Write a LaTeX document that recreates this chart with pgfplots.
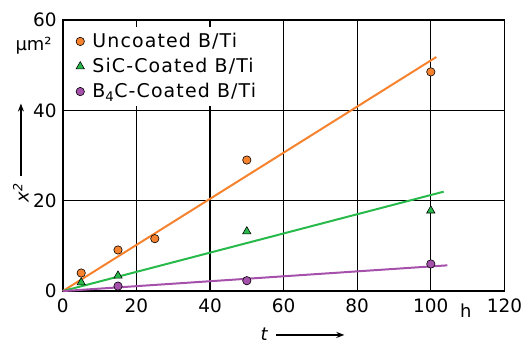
\documentclass[border=0pt]{standalone}
\usepackage{fontspec}
\setmainfont{DejaVu Sans}
\usepackage{pgfplots}
\pgfplotsset{compat=1.18}
\usetikzlibrary{arrows.meta}
\definecolor{cor}{RGB}{246,130,45}
\definecolor{cgr}{RGB}{40,185,75}
\definecolor{cpu}{RGB}{165,80,170}
\begin{document}
\fontsize{18}{21}\selectfont
\begin{tikzpicture}
\begin{axis}[
  scale only axis, width=443pt, height=272pt,
  xmin=0, xmax=120, ymin=0, ymax=60,
  xtick={0,20,...,120}, ytick={0,20,40,60},
  xticklabels={0,20,40,60,80,100,120},
  grid=major, grid style={black, line width=1.2pt},
  axis line style={line width=1.5pt},
  major tick length=0pt,
  /pgf/number format/assume math mode=true,
  ticklabel style={font=\fontsize{18.5}{21}\selectfont},
  xticklabel style={yshift=-2pt},
  legend style={at={(rel axis cs:0.007,0.975)}, anchor=north west, draw=none, fill=white,
    font=\fontsize{19}{22}\selectfont\addfontfeature{LetterSpace=6}, row sep=4pt, column sep=6pt,
    inner xsep=10pt, inner ysep=4pt},
  legend cell align=left,
  clip=false,
]
\coordinate (nw) at (rel axis cs:0,1);
\coordinate (se) at (rel axis cs:1,0);
\addplot[cor, line width=2pt, forget plot] coordinates {(0,0) (101.5,51.8)};
\addplot[cgr, line width=2pt, forget plot] coordinates {(0,0) (103.5,22.0)};
\addplot[cpu, line width=2pt, forget plot] coordinates {(0,0) (104.5,5.7)};
\addplot[only marks, mark=*, mark size=4.2pt, mark options={fill=cor, draw=black, line width=0.6pt}]
  coordinates {(5,4.0) (15,9.1) (25,11.6) (50,29.0) (100,48.5)};
\addlegendentry{Uncoated B/Ti}
\addplot[only marks, mark=triangle*, mark size=4.8pt, mark options={fill=cgr, draw=black, line width=0.6pt}]
  coordinates {(5,1.9) (15,3.4) (50,13.2) (100,17.8)};
\addlegendentry{SiC-Coated B/Ti}
\addplot[only marks, mark=*, mark size=4.2pt, mark options={fill=cpu, draw=black, line width=0.6pt}]
  coordinates {(15,1.1) (50,2.3) (100,6.0)};
\addlegendentry{B\textsubscript{4}C-Coated B/Ti}
\node[anchor=east] at (axis cs:0,54.3) [xshift=-5pt] {μm²};
\node at (axis cs:109.5,0) [yshift=-20pt] {h};
\node[rotate=90] at ([xshift=-42pt]axis cs:0,21.8) {\itshape x\textsuperscript{2}};
\draw[line width=1.5pt, -{Stealth[length=8pt,width=6pt]}] ([xshift=-42pt]axis cs:0,25.4) -- ([xshift=-42pt]axis cs:0,41.5);
\node at (axis cs:54.7,0) [yshift=-43pt] {\itshape t};
\draw[line width=1.5pt, -{Stealth[length=8pt,width=6pt]}] ([yshift=-44pt]axis cs:58,0) -- ([yshift=-44pt]axis cs:76.5,0);
\end{axis}
\path ([shift={(-63pt,20pt)}]nw) rectangle ([shift={(22pt,-52pt)}]se);
\end{tikzpicture}
\end{document}
